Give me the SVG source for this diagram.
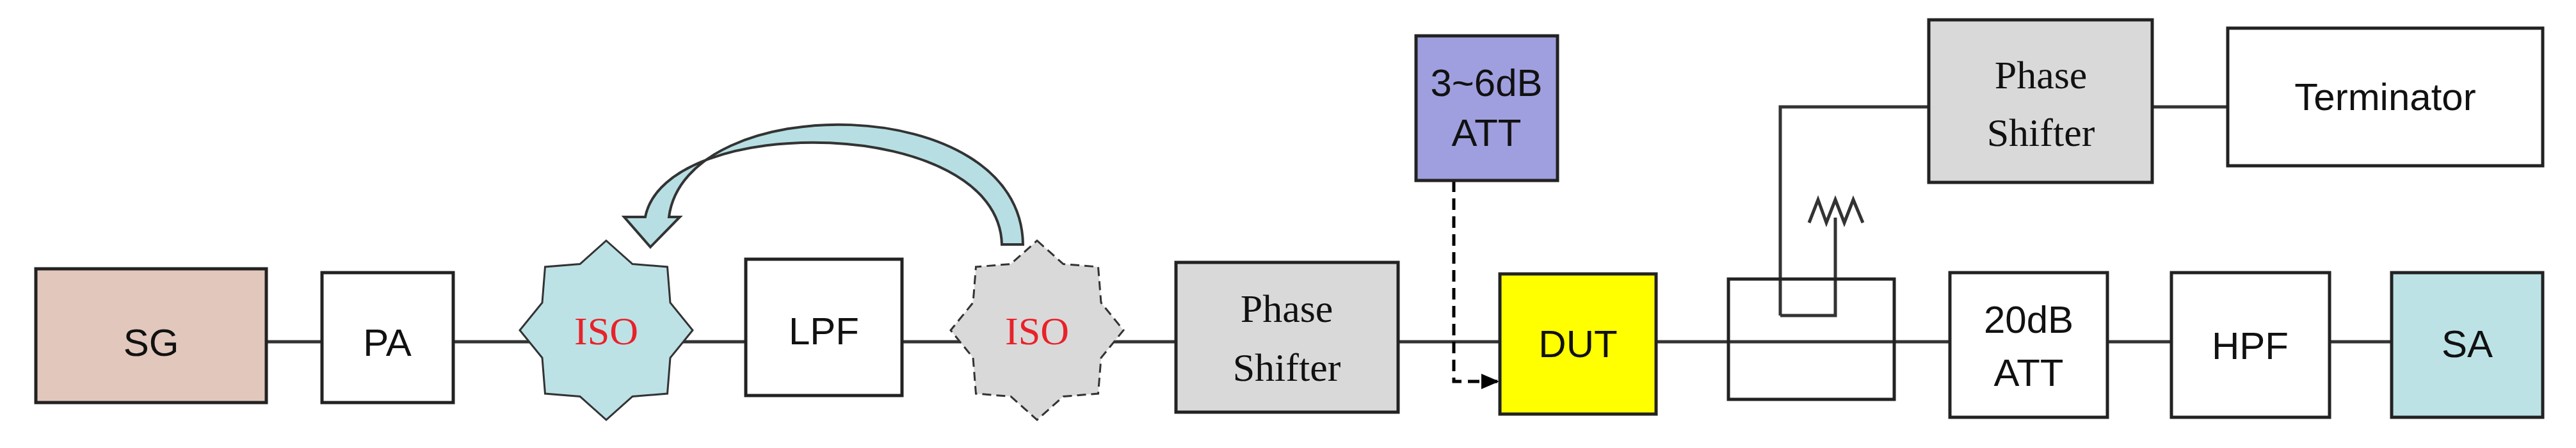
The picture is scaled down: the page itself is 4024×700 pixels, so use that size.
<svg xmlns="http://www.w3.org/2000/svg" width="4024" height="700" viewBox="0 0 4024 700">
<style>
.b{stroke:#222;stroke-width:5}
.s{font-family:"Liberation Sans",Arial,sans-serif;font-size:60px;fill:#111;text-anchor:middle}
.r{font-family:"Liberation Serif","Times New Roman",serif;font-size:62px;text-anchor:middle;fill:#111}
.ln{stroke:#333;stroke-width:5;fill:none}
</style>
<defs>
<polygon id="star" points="0,-140 41,-103.5 95.5,-99 100,-43 135,0 100,43 95.5,99 41,103.5 0,140 -41,103.5 -95.5,99 -100,43 -135,0 -100,-43 -95.5,-99 -41,-103.5"/>
<marker id="ah" markerWidth="28" markerHeight="28" refX="26" refY="14" orient="auto" markerUnits="userSpaceOnUse" viewBox="0 0 28 28"><path d="M0,2L28,14L0,26z" fill="#000"/></marker>
</defs>
<rect width="4024" height="700" fill="#fff"/>
<g id="connectors">
<line class="ln" x1="416" y1="534" x2="2343" y2="534"/>
<line class="ln" x1="2587" y1="534" x2="3736" y2="534"/>
<polyline class="ln" points="2781,493 2781,167 3013,167"/>
<line class="ln" x1="3362" y1="167" x2="3480" y2="167"/>
<polyline class="ln" points="2781,493 2867,493 2867,340"/>
<polyline class="ln" stroke-width="3" points="2826,348 2840,312 2853,348 2867,312 2881,348 2895,312 2910,348"/>
<polyline class="ln" stroke-width="3" stroke-dasharray="18,10" points="2271,282 2271,596 2340,596" marker-end="url(#ah)" style="stroke:#000"/>
<path d="M1598,382 C1595,140 1070,140 1045,339 L1062,339 L1016,386 L975,339 L1008,339 C1040,175 1560,180 1565,382 Z" fill="#b7dfe3" stroke="#333" stroke-width="4"/>
</g>
<g id="sg"><rect class="b" x="56" y="420" width="360" height="209" fill="#e2c7bc"/><text class="s" x="236" y="556">SG</text></g>
<g id="pa"><rect class="b" x="503" y="426" width="205" height="203" fill="#fff"/><text class="s" x="605" y="556">PA</text></g>
<g id="iso1"><use href="#star" transform="translate(947,516)" fill="#bde2e6" stroke="#333" stroke-width="3"/><text class="r" x="947" y="538" style="fill:#e8222a">ISO</text></g>
<g id="lpf"><rect class="b" x="1165" y="405" width="244" height="213" fill="#fff"/><text class="s" x="1287" y="538">LPF</text></g>
<g id="iso2"><use href="#star" transform="translate(1620,516)" fill="#d9d9d9" stroke="#333" stroke-width="3" stroke-dasharray="14,8"/><text class="r" x="1620" y="538" style="fill:#e8222a">ISO</text></g>
<g id="ps1"><rect class="b" x="1837" y="410" width="347" height="234" fill="#d9d9d9"/><text class="r" x="2010" y="503">Phase</text><text class="r" x="2010" y="595">Shifter</text></g>
<g id="att1"><rect class="b" x="2212" y="56" width="221" height="226" fill="#9f9fdf"/><text class="s" x="2322" y="150">3~6dB</text><text class="s" x="2322" y="228">ATT</text></g>
<g id="dut"><rect class="b" x="2343" y="428" width="244" height="219" fill="#ffff00"/><text class="s" x="2465" y="558">DUT</text></g>
<g id="coupler"><rect class="b" x="2700" y="436" width="259" height="188" fill="none"/></g>
<g id="att2"><rect class="b" x="3046" y="426" width="246" height="226" fill="#fff"/><text class="s" x="3169" y="520">20dB</text><text class="s" x="3169" y="603">ATT</text></g>
<g id="hpf"><rect class="b" x="3392" y="426" width="247" height="226" fill="#fff"/><text class="s" x="3515" y="561">HPF</text></g>
<g id="sa"><rect class="b" x="3736" y="426" width="236" height="226" fill="#bde2e6"/><text class="s" x="3854" y="558">SA</text></g>
<g id="ps2"><rect class="b" x="3013" y="31" width="349" height="254" fill="#d9d9d9"/><text class="r" x="3188" y="138">Phase</text><text class="r" x="3188" y="228">Shifter</text></g>
<g id="term"><rect class="b" x="3480" y="44" width="492" height="215" fill="#fff"/><text class="s" x="3726" y="172">Terminator</text></g>
</svg>
